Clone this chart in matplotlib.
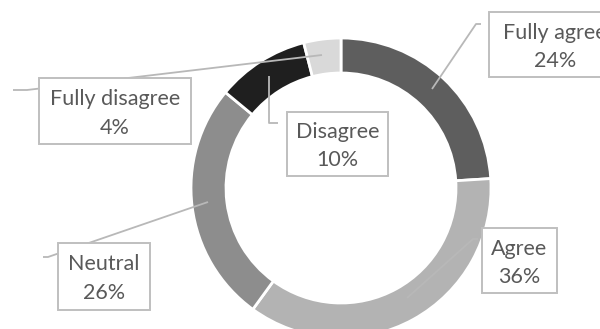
import matplotlib
matplotlib.use("Agg")
import matplotlib.pyplot as plt
from matplotlib.patches import Rectangle

categories = ["Fully agree", "Agree", "Neutral", "Disagree", "Fully disagree"]
values = [24, 36, 26, 10, 4]
colors = ["#5e5e5e", "#b3b3b3", "#8d8d8d", "#1f1f1f", "#d9d9d9"]

W, H = 600, 329
fig = plt.figure(figsize=(W / 100, H / 100), dpi=100)
ax = fig.add_axes([0, 0, 1, 1])
ax.set_xlim(0, W)
ax.set_ylim(0, H)
ax.set_aspect("equal")
ax.axis("off")

cx, cy, R = 341, H - 188, 150
ax.pie(values, colors=colors, startangle=90, counterclock=False,
       center=(cx, cy), radius=R, frame=True,
       wedgeprops=dict(width=35, edgecolor="white", linewidth=2))
ax.set_xlim(0, W)
ax.set_ylim(0, H)
ax.axis("off")

txt_color = "#595959"
box_color = "#bfbfbf"
line_color = "#b8b8b8"

# label boxes in pixel coords (top-left origin): x0, x1, y0, y1
boxes = {
    "Fully agree": (489, 621, 12, 77),
    "Agree": (482, 557, 228, 293),
    "Neutral": (58, 150, 243, 310),
    "Disagree": (287, 388, 112, 176),
    "Fully disagree": (39, 191, 78, 144),
}
leaders = {
    "Fully agree": [(432, 89), (476, 24), (481, 24)],
    "Agree": [(407, 298), (473, 239), (478, 239)],
    "Neutral": [(208, 202), (48, 257), (43, 257)],
    "Disagree": [(269, 76), (269, 123), (278, 123)],
    "Fully disagree": [(322, 55), (27, 90), (13, 90)],
}

for cat, v in zip(categories, values):
    pts = leaders[cat]
    ax.plot([p[0] for p in pts], [H - p[1] for p in pts], color=line_color,
            lw=1.3, solid_capstyle="butt", zorder=3)
for cat, v in zip(categories, values):
    x0, x1, y0, y1 = boxes[cat]
    ax.add_patch(Rectangle((x0, H - y1), x1 - x0, y1 - y0, facecolor="white",
                           edgecolor=box_color, lw=1.4, zorder=4, clip_on=False))
    xc = (x0 + x1) / 2
    ax.text(xc, H - (y0 + 0.32 * (y1 - y0)), cat, ha="center", va="center",
            color=txt_color, fontsize=15.5, family="Lato", zorder=5)
    ax.text(xc, H - (y0 + 0.75 * (y1 - y0)), f"{v}%", ha="center", va="center",
            color=txt_color, fontsize=15.5, family="Lato", zorder=5)

fig.savefig("out.png", dpi=100)
